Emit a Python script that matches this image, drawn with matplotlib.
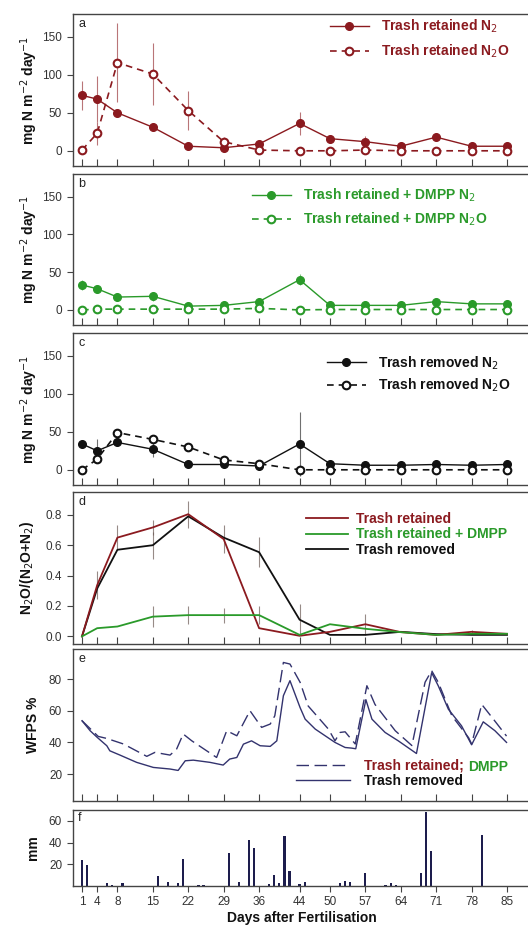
import matplotlib
matplotlib.use('Agg')
import matplotlib.pyplot as plt

plt.rcParams['font.family'] = ['Liberation Sans', 'DejaVu Sans']

# ---------------- data ----------------
days = [1, 4, 8, 15, 22, 29, 36, 44, 50, 57, 64, 71, 78, 85]
tick_days = [1, 4, 8, 15, 22, 29, 36, 44, 50, 57, 64, 71, 78, 85]

a_n2 = [73, 68, 50, 31, 6, 4, 9, 36, 16, 12, 6, 18, 6, 6]
a_n2_err = [19, 30, 5, 4, 3, 2, 3, 15, 5, 8, 2, 4, 2, 2]
a_n2o = [1, 23, 116, 101, 53, 12, 1, 0, 0, 1, 0, 0, 0, 0]
a_n2o_err = [1, 15, 52, 41, 26, 6, 1, 0, 0, 0, 0, 0, 0, 0]

b_n2 = [33, 28, 17, 18, 5, 6, 11, 40, 6, 6, 6, 11, 8, 8]
b_n2_err = [6, 4, 3, 6, 2, 2, 3, 7, 2, 2, 2, 2, 2, 2]
b_n2o = [0, 1, 1, 1, 1, 1, 2, 0, 0.5, 0.5, 0.5, 0.5, 0.5, 0.5]
b_n2o_err = [0, 1, 1, 1, 1, 1, 1, 0, 0, 0, 0, 0, 0, 0]

c_n2 = [34, 25, 36, 27, 7, 7, 5, 34, 8, 6, 6, 7, 6, 7]
c_n2_err = [3, 16, 4, 10, 2, 2, 2, 42, 2, 1, 1, 1, 1, 1]
c_n2o = [0, 14, 49, 40, 30, 13, 8, 0, 0, 0, 0, 0, 0, 0]
c_n2o_err = [0, 4, 4, 3, 2, 2, 2, 0, 0, 0, 0, 0, 0, 0]

d_ret = [0, 0.337, 0.65, 0.717, 0.804, 0.64, 0.054, 0.004, 0.03, 0.08, 0.028, 0.01, 0.03, 0.017]
d_ret_err = [0, 0.09, 0.08, 0.05, 0.09, 0.09, 0, 0, 0, 0.07, 0, 0, 0.01, 0]
d_dmpp = [0, 0.054, 0.065, 0.13, 0.14, 0.14, 0.14, 0.01, 0.08, 0.05, 0.028, 0.01, 0.017, 0.017]
d_dmpp_err = [0, 0, 0, 0.07, 0.06, 0.05, 0.06, 0, 0, 0, 0, 0, 0, 0]
d_rem = [0, 0.315, 0.57, 0.6, 0.79, 0.65, 0.554, 0.11, 0.01, 0.01, 0.03, 0.015, 0.01, 0.01]
d_rem_err = [0, 0, 0, 0.09, 0, 0, 0.1, 0.1, 0, 0, 0, 0, 0, 0]

e_ret_days = [1, 4.2, 5.9, 9.2, 13.8, 15.4, 18.4, 19.7, 21, 22.7, 27.6, 29.6, 31.6, 34.2,
              36.5, 38.2, 39.1, 40.8, 42.1, 44.1, 45.7, 49.7, 51, 52, 53, 55, 57.3, 58.9,
              62.9, 66.2, 68.8, 70.1, 71.4, 74.1, 77.4, 78, 80, 82.3, 84.9]
e_ret = [53.7, 43.8, 42.5, 39, 31.2, 33.7, 32, 35.8, 45.3, 41, 30.5, 47.4, 44.2, 60,
         49.5, 51.6, 56.8, 90.5, 89.5, 78, 63, 48.4, 41, 46.3, 46.7, 39, 75.8, 64,
         47.4, 38, 78, 85.3, 78, 56.8, 43, 39, 64, 54.7, 44]
e_rem_days = [1, 2.6, 4, 5.9, 6.5, 8.5, 11.8, 15.1, 18.4, 20, 21.4, 23, 26.3, 28.9, 30.2,
              31.6, 32.9, 34.5, 36.2, 38.2, 39.5, 40.8, 42.1, 44.1, 45.1, 47.1, 51, 53,
              54.3, 55.1, 57.1, 58.3, 60.9, 63.5, 67.1, 70.1, 71.4, 73.4, 76, 78, 80.3,
              82.6, 84.9]
e_rem = [53.7, 47.4, 43.2, 37.9, 34.7, 32, 27.4, 24.2, 23.2, 22.3, 28.4, 28.8, 27.4, 25.7,
         29.5, 30.5, 38.9, 41, 37.9, 37.5, 41, 69.5, 79, 62, 54.7, 48.4, 40, 36.8,
         36.4, 36, 67, 54.7, 46.3, 41, 33, 84, 75.8, 61, 50.5, 38.5, 53,
         47.4, 40]

rain_days = [1, 2, 6, 7, 9, 16, 18, 20, 21, 24, 25, 30, 32, 34, 35, 38, 39, 40, 41, 42,
             44, 45, 52, 53, 54, 57, 61, 62, 63, 68, 69, 70, 80]
rain_mm = [23.5, 19.5, 2.5, 1.2, 3, 9.3, 3.7, 3, 24.7, 1.2, 1.2, 30.2, 3.4, 42.6, 35.2,
           1.8, 10.2, 3, 45.7, 14.2, 1.8, 4, 2.5, 4.6, 3.4, 11.7, 0.9, 2.5, 0.9, 11.7,
           67.9, 31.8, 47.2]

# ---------------- styling ----------------
RED = '#8b1a1f'
GREEN = '#2a9a2a'
BLACK = '#111111'
NAVY = '#33336e'
BARC = '#1d1d4d'
TICKC = '#333333'
W, H = 528, 930
LEFT, RIGHT = 72.5, 532
X0 = 1 - (82 - LEFT) / 5.06
X1 = 1 + (RIGHT - 82) / 5.06
LEGSIZE = 10

fig = plt.figure(figsize=(W / 100, H / 100), dpi=100)


def make_ax(top, bottom):
    ax = fig.add_axes([LEFT / W, 1 - bottom / H, (RIGHT - LEFT) / W, (bottom - top) / H])
    ax.set_xlim(X0, X1)
    ax.set_xticks(tick_days)
    for s in ax.spines.values():
        s.set_color('#444444')
        s.set_linewidth(1.0)
    ax.tick_params(axis='x', direction='in', length=5, width=0.8, color='#444444',
                   labelbottom=False)
    ax.tick_params(axis='y', direction='out', length=4, width=0.8, color='#444444',
                   labelsize=8.5, labelcolor=TICKC)
    return ax


def ylab(ax, txt, xpx=40):
    ax.set_ylabel(txt, fontsize=10, fontweight='bold', color='#111111')
    ax.yaxis.set_label_coords((xpx - LEFT) / (RIGHT - LEFT), 0.5)


def letter(ax, t):
    ax.text(0.012, 0.975, t, transform=ax.transAxes, ha='left', va='top',
            fontsize=9, color='#222222')


def flux_panel(ax, n2, n2e, n2o, n2oe, col, lab1, lab2, lx, ly, lspace):
    ax.errorbar(days, n2, yerr=n2e, fmt='none', ecolor=col, elinewidth=0.8, alpha=0.6)
    ax.errorbar(days, n2o, yerr=n2oe, fmt='none', ecolor=col, elinewidth=0.8, alpha=0.6)
    l1, = ax.plot(days, n2, '-', color=col, lw=1.0, marker='o', ms=5.5,
                  mfc=col, mec=col, label=lab1, zorder=3)
    l2, = ax.plot(days, n2o, '--', color=col, lw=1.2, marker='o', ms=5.5,
                  mfc='white', mec=col, mew=1.5, dashes=(4, 3), label=lab2, zorder=3)
    ax.set_ylim(-20, 180)
    ax.set_yticks([0, 50, 100, 150])
    leg = ax.legend(handles=[l1, l2], loc='upper left', bbox_to_anchor=(lx, ly),
                    frameon=False, borderpad=0, borderaxespad=0, handlelength=2.8,
                    handletextpad=0.9, labelspacing=lspace,
                    prop={'weight': 'bold', 'size': LEGSIZE})
    for t in leg.get_texts():
        t.set_color(col)
    return leg


# ---- panel a
axa = make_ax(14, 166)
flux_panel(axa, a_n2, a_n2_err, a_n2o, a_n2o_err, RED,
           'Trash retained N$_2$', 'Trash retained N$_2$O',
           (330 - LEFT) / (RIGHT - LEFT), 0.975, 0.55)
ylab(axa, 'mg N m$^{-2}$ day$^{-1}$')
letter(axa, 'a')

# ---- panel b
axb = make_ax(174, 325)
flux_panel(axb, b_n2, b_n2_err, b_n2o, b_n2o_err, GREEN,
           'Trash retained + DMPP N$_2$', 'Trash retained + DMPP N$_2$O',
           (252 - LEFT) / (RIGHT - LEFT), 0.915, 0.45)
ylab(axb, 'mg N m$^{-2}$ day$^{-1}$')
letter(axb, 'b')

# ---- panel c
axc = make_ax(333, 485)
flux_panel(axc, c_n2, c_n2_err, c_n2o, c_n2o_err, BLACK,
           'Trash removed N$_2$', 'Trash removed N$_2$O',
           (327 - LEFT) / (RIGHT - LEFT), 0.86, 0.35)
ylab(axc, 'mg N m$^{-2}$ day$^{-1}$')
letter(axc, 'c')

# ---- panel d
axd = make_ax(492, 644)
for vals, errs, col in [(d_ret, d_ret_err, RED), (d_dmpp, d_dmpp_err, GREEN),
                        (d_rem, d_rem_err, BLACK)]:
    axd.errorbar(days, vals, yerr=errs, fmt='none', ecolor='#6b5a55', elinewidth=0.8,
                 alpha=0.7)
lb, = axd.plot(days, d_rem, color=BLACK, lw=1.3, label='Trash removed', zorder=2)
lr, = axd.plot(days, d_ret, color=RED, lw=1.3, label='Trash retained', zorder=3)
lg, = axd.plot(days, d_dmpp, color=GREEN, lw=1.3, label='Trash retained + DMPP', zorder=3)
axd.set_ylim(-0.05, 0.95)
axd.set_yticks([0, 0.2, 0.4, 0.6, 0.8])
axd.set_yticklabels(['0.0', '0.2', '0.4', '0.6', '0.8'])
legd = axd.legend(handles=[lr, lg, lb], loc='upper left',
                  bbox_to_anchor=((306 - LEFT) / (RIGHT - LEFT), 0.87), frameon=False,
                  borderpad=0, borderaxespad=0, handlelength=3.0, handletextpad=0.6,
                  labelspacing=0.12, prop={'weight': 'bold', 'size': LEGSIZE})
for t, c in zip(legd.get_texts(), [RED, GREEN, BLACK]):
    t.set_color(c)
ylab(axd, 'N$_2$O/(N$_2$O+N$_2$)', 36)
letter(axd, 'd')

# ---- panel e
axe = make_ax(649, 801)
le1, = axe.plot(e_ret_days, e_ret, color=NAVY, lw=1.0, dashes=(9, 4), label='Trash retained;')
le2, = axe.plot(e_rem_days, e_rem, color=NAVY, lw=1.0, label='Trash removed')
axe.set_ylim(3, 99)
axe.set_yticks([20, 40, 60, 80])
lege = axe.legend(handles=[le1, le2], loc='upper left',
                  bbox_to_anchor=((296 - LEFT) / (RIGHT - LEFT), 0.28), frameon=False,
                  borderpad=0, borderaxespad=0, handlelength=3.9, handletextpad=1.0,
                  labelspacing=0.1, prop={'weight': 'bold', 'size': LEGSIZE})
lege.get_texts()[0].set_color(RED)
lege.get_texts()[1].set_color(BLACK)
ylab(axe, 'WFPS %')
letter(axe, 'e')

# ---- panel f
axf = make_ax(810, 886)
axf.bar(rain_days, rain_mm, width=0.45, color=BARC)
axf.set_ylim(0, 70)
axf.set_yticks([20, 40, 60])
axf.tick_params(axis='x', direction='out', length=4, labelbottom=True, labelsize=8.5,
                labelcolor=TICKC)
axf.set_xticklabels([str(d) for d in tick_days])
axf.set_xlabel('Days after Fertilisation', fontsize=10, fontweight='bold',
               color='#111111', labelpad=2)
ylab(axf, 'mm')
letter(axf, 'f')

# second-colour word in the panel e legend, on the same baseline
fig.canvas.draw()
renderer = fig.canvas.get_renderer()
t0 = lege.get_texts()[0]
bb = t0.get_window_extent(renderer)
bx, by = t0.get_transform().transform(t0.get_position())
fig.text((bb.x1 + 4) / W, (by - 1.2) / H, 'DMPP', ha='left', va=t0.get_va(),
         fontsize=LEGSIZE, fontweight='bold', color=GREEN)

fig.savefig('out.png', dpi=100)
